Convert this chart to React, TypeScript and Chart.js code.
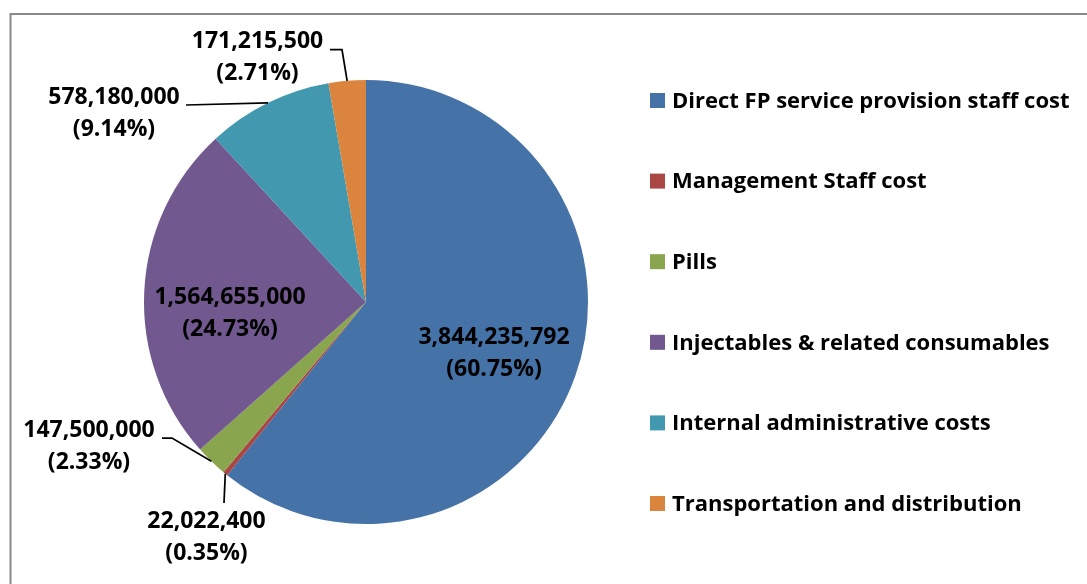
import React, { useEffect, useRef } from "react";
import { Chart, registerables } from "chart.js";

Chart.register(...registerables);

const categories = [
  "Direct FP service provision staff cost",
  "Management Staff cost",
  "Pills",
  "Injectables & related consumables",
  "Internal administrative costs",
  "Transportation and distribution",
];
const costValues = [3844235792, 22022400, 147500000, 1564655000, 578180000, 171215500];
const percentLabels = ["(60.75%)", "(0.35%)", "(2.33%)", "(24.73%)", "(9.14%)", "(2.71%)"];
const sliceColors = ["#4572A7", "#AA4643", "#89A54E", "#71588F", "#4198AF", "#DB843D"];

// label layout relative to pie centre (px): first-line centre, leader waypoints
const labelLayout = [
  { dx: 128, dy: 35, leader: null },
  { dx: -159.5, dy: 219, leader: [[-142, 201]] },
  { dx: -277, dy: 128.5, leader: [[-194, 136], [-204, 136]] },
  { dx: -136, dy: -5, leader: null },
  { dx: -252, dy: -204.5, leader: [[-180, -197]] },
  { dx: -108.5, dy: -260.5, leader: [[-24, -252.5], [-36, -252.5]] },
];

const FONT = "'Open Sans', 'Liberation Sans', sans-serif";
const LABEL_FONT = `bold 23px ${FONT}`;
const LEGEND_FONT = `bold 22px ${FONT}`;

const fmt = (v: number) => v.toLocaleString("en-US");

const framePlugin = {
  id: "frame",
  beforeDraw(chart: any) {
    const ctx = chart.ctx;
    ctx.save();
    ctx.fillStyle = "#ffffff";
    ctx.fillRect(0, 0, chart.width, chart.height);
    ctx.strokeStyle = "#898989";
    ctx.lineWidth = 2;
    ctx.strokeRect(10.5, 14, chart.width + 50, chart.height + 50);
    ctx.restore();
  },
};

const labelPlugin = {
  id: "sliceLabels",
  afterDatasetsDraw(chart: any) {
    const ctx = chart.ctx;
    const meta = chart.getDatasetMeta(0);
    ctx.save();
    ctx.font = LABEL_FONT;
    ctx.fillStyle = "#000";
    ctx.strokeStyle = "#000";
    ctx.lineWidth = 1.75;
    ctx.textAlign = "center";
    ctx.textBaseline = "middle";
    meta.data.forEach((arc: any, i: number) => {
      const { x, y, startAngle, endAngle, outerRadius } = arc.getProps(
        ["x", "y", "startAngle", "endAngle", "outerRadius"],
        true
      );
      const lay = labelLayout[i];
      const mid = (startAngle + endAngle) / 2;
      if (lay.leader) {
        ctx.beginPath();
        ctx.moveTo(x + Math.cos(mid) * outerRadius, y + Math.sin(mid) * outerRadius);
        lay.leader.forEach((p) => ctx.lineTo(x + p[0], y + p[1]));
        ctx.stroke();
      }
      ctx.fillText(fmt(costValues[i]), x + lay.dx, y + lay.dy);
      ctx.fillText(percentLabels[i], x + lay.dx, y + lay.dy + 32);
    });
    ctx.restore();
  },
};

const legendPlugin = {
  id: "customLegend",
  afterDraw(chart: any) {
    const ctx = chart.ctx;
    ctx.save();
    ctx.font = LEGEND_FONT;
    ctx.textBaseline = "middle";
    ctx.textAlign = "left";
    const firstY = 100.5;
    const step = 80.6;
    categories.forEach((c, i) => {
      const cy = firstY + i * step;
      ctx.fillStyle = sliceColors[i];
      ctx.fillRect(650, cy - 7.5, 15, 15);
      ctx.fillStyle = "#000";
      ctx.fillText(c, 672, cy + 1);
    });
    ctx.restore();
  },
};

export default function App() {
  const ref = useRef<HTMLCanvasElement | null>(null);
  useEffect(() => {
    if (!ref.current) return;
    const chart = new Chart(ref.current, {
      type: "pie",
      data: {
        labels: categories,
        datasets: [
          {
            data: costValues,
            backgroundColor: sliceColors,
            borderWidth: 0,
          },
        ],
      },
      options: {
        responsive: false,
        animation: false,
        layout: { padding: { left: 144, right: 499, top: 80, bottom: 60 } },
        plugins: {
          legend: { display: false },
          tooltip: { enabled: false },
        },
      },
      plugins: [framePlugin, labelPlugin, legendPlugin],
    });
    return () => chart.destroy();
  }, []);
  return (
    <div style={{ position: "absolute", left: 0, top: 0, width: 1087, height: 584, background: "#fff" }}>
      <canvas ref={ref} width={1087} height={584} style={{ display: "block" }} />
    </div>
  );
}
